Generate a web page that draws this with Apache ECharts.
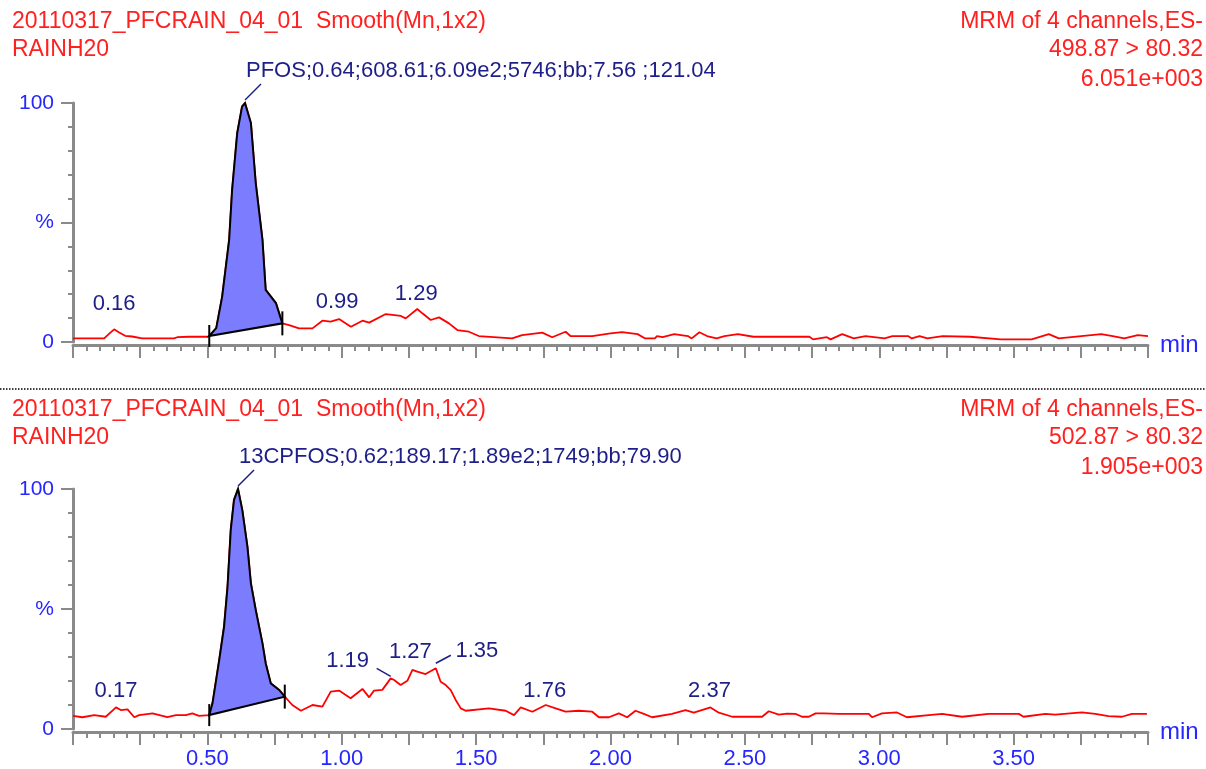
<!DOCTYPE html>
<html>
<head>
<meta charset="utf-8">
<script src="https://cdn.jsdelivr.net/npm/echarts@6/dist/echarts.min.js"></script>
<style>
  html, body { margin: 0; padding: 0; background: #fff; }
  #chart { width: 1206px; height: 769px; }
</style>
</head>
<body>
<div id="chart"></div>
<script>
// 上图 PFOS 通道 (498.87 > 80.32)
const topTimes = [0.000, 0.116, 0.135, 0.153, 0.172, 0.194, 0.220, 0.257, 0.376, 0.388, 0.395, 0.432, 0.499,
  0.507, 0.533, 0.555, 0.581, 0.592, 0.611, 0.629, 0.640, 0.662, 0.680, 0.705, 0.717, 0.755, 0.779,
  0.804, 0.841, 0.891, 0.928, 0.959, 0.990, 1.034, 1.077, 1.102, 1.164, 1.220, 1.238, 1.281, 1.300,
  1.331, 1.362, 1.399, 1.430, 1.473, 1.510, 1.634, 1.671, 1.746, 1.783, 1.833, 1.851, 1.932, 2.000,
  2.043, 2.101, 2.129, 2.165, 2.173, 2.194, 2.237, 2.288, 2.302, 2.331, 2.359, 2.395, 2.424, 2.474,
  2.532, 2.740, 2.754, 2.805, 2.819, 2.862, 2.905, 2.949, 3.020, 3.049, 3.107, 3.121, 3.150, 3.179,
  3.236, 3.337, 3.452, 3.567, 3.631, 3.668, 3.826, 3.869, 3.912, 3.962, 4.000];
const topValues = [1.5, 1.5, 3.5, 5.3, 4.0, 2.6, 2.3, 1.5, 1.5, 2.0, 1.5, 2.2, 2.2,
  2.5, 5.8, 19, 42.7, 63.6, 87.4, 98.5, 100, 91.6, 66.5, 42.7, 21.8, 16.3, 7.8,
  7.1, 5.7, 5.7, 8.9, 8.5, 9.6, 6.4, 8.9, 8.1, 11.7, 10.9, 9.9, 13.8, 12.0,
  9.2, 10.3, 7.8, 5.0, 4.3, 2.5, 1.5, 2.9, 3.9, 2.0, 4.3, 2.5, 2.5, 3.6,
  4.1, 3.3, 1.5, 1.5, 2.5, 2.0, 3.3, 2.5, 1.5, 4.1, 2.5, 1.5, 2.5, 3.3,
  2.2, 2.2, 1.1, 2.0, 1.1, 3.3, 1.5, 2.5, 1.5, 2.5, 2.5, 1.5, 2.5, 1.5,
  2.5, 2.2, 1.1, 1.1, 3.3, 1.5, 3.3, 2.5, 1.5, 2.9, 2.5];
const topPeakRange = [0.507, 0.779];
const topPeakLabel = "PFOS;0.64;608.61;6.09e2;5746;bb;7.56 ;121.04";
const topPeakApex = [0.640, 100];
const topMarks = ["0.16", "0.99", "1.29"];
const topMarkTimes = [0.153, 0.990, 1.281];
const topMarkValues = [5.3, 9.6, 13.8];

// 下图 13CPFOS 通道 (502.87 > 80.32)
const bottomTimes = [0.000, 0.035, 0.079, 0.122, 0.160, 0.178, 0.203, 0.228, 0.246, 0.296, 0.351, 0.383, 0.420,
  0.444, 0.469, 0.507, 0.519, 0.544, 0.562, 0.575, 0.587, 0.599, 0.614, 0.630, 0.649, 0.662, 0.680,
  0.705, 0.717, 0.736, 0.767, 0.788, 0.816, 0.848, 0.891, 0.928, 0.959, 0.990, 1.033, 1.077, 1.102,
  1.120, 1.151, 1.182, 1.195, 1.219, 1.244, 1.263, 1.281, 1.312, 1.350, 1.368, 1.387, 1.405, 1.424,
  1.443, 1.461, 1.548, 1.610, 1.641, 1.666, 1.709, 1.759, 1.796, 1.833, 1.882, 1.932, 1.957, 1.994,
  2.031, 2.062, 2.093, 2.124, 2.155, 2.229, 2.279, 2.310, 2.372, 2.403, 2.453, 2.564, 2.589, 2.626,
  2.657, 2.688, 2.713, 2.738, 2.763, 2.794, 2.849, 2.961, 2.973, 3.010, 3.066, 3.103, 3.184, 3.234,
  3.308, 3.407, 3.519, 3.537, 3.618, 3.655, 3.754, 3.804, 3.853, 3.903, 3.940, 3.996];
const bottomValues = [5.5, 4.9, 5.8, 5.1, 9.0, 7.9, 8.2, 4.9, 5.8, 6.5, 4.9, 5.8, 5.8,
  6.5, 5.5, 5.8, 10.7, 28.7, 42.6, 59.3, 83, 95.4, 100, 91.2, 76, 60.7, 49.6,
  35.7, 27.4, 19, 16.3, 13.5, 10, 7.6, 10, 9.3, 15.6, 16, 12.8, 16.7, 13.2,
  16, 16.3, 21.1, 20.4, 18.3, 20.1, 24.6, 23.9, 22.9, 25.3, 19.7, 18.3, 16.3, 12.1,
  8.6, 7.6, 8.6, 7.6, 5.8, 9.0, 7.2, 10, 8.6, 7.2, 7.6, 7.2, 4.9, 4.9,
  6.5, 4.9, 7.6, 6.3, 4.9, 6.3, 7.9, 6.8, 9.0, 6.8, 5.1, 5.1, 7.4, 6.0,
  6.4, 6.3, 5.1, 5.1, 6.5, 6.5, 6.3, 6.3, 4.9, 6.5, 6.9, 4.9, 5.8, 6.3,
  5.1, 6.3, 6.3, 5.1, 6.3, 6.0, 6.9, 6.3, 5.4, 5.1, 6.3, 6.3];
const bottomPeakRange = [0.507, 0.788];
const bottomPeakLabel = "13CPFOS;0.62;189.17;1.89e2;1749;bb;79.90";
const bottomPeakApex = [0.614, 100];
const bottomMarks = ["0.17", "1.19", "1.27", "1.35", "1.76", "2.37"];
const bottomMarkTimes = [0.160, 1.182, 1.263, 1.350, 1.759, 2.372];
const bottomMarkValues = [9.0, 21.1, 24.6, 25.3, 10, 9.0];

// 坐标轴刻度文字
const xTickLabels = ["0.50", "1.00", "1.50", "2.00", "2.50", "3.00", "3.50"];
const yTickValues = [0, 50, 100];
const yTickLabels = ["0", "%", "100"];

// 表头文字
const topHeaderLeft = ["20110317_PFCRAIN_04_01  Smooth(Mn,1x2)", "RAINH20"];
const topHeaderRight = ["MRM of 4 channels,ES-", "498.87 > 80.32", "6.051e+003"];
const bottomHeaderLeft = ["20110317_PFCRAIN_04_01  Smooth(Mn,1x2)", "RAINH20"];
const bottomHeaderRight = ["MRM of 4 channels,ES-", "502.87 > 80.32", "1.905e+003"];

// 标注位置偏移 (像素, 相对峰顶)
const topMarkOffsets = [[0, -25, 0], [-2, -17, 0], [-1, -15, 0]];
const bottomMarkOffsets = [[0, -16, 0], [-43, -17, 1], [-2, -18, 0], [41, -17, 2], [-1, -14, 0], [-1, -16, 0]];

const FONT = "'Liberation Sans', Arial, sans-serif";
const RED = "#ff2020";
const BLUE = "#2626ff";
const NAVY = "#1e1e88";
const AXIS_GREY = "#8a8a8a";

const pairs = (xs, ys) => xs.map((x, i) => [x, ys[i]]);

const chart = echarts.init(document.getElementById("chart"));

const makeXAxis = (gridIndex, showLabels) => ({
  type: "value",
  gridIndex: gridIndex,
  min: 0,
  max: 4,
  interval: 0.25,
  offset: 3,
  name: "min",
  nameLocation: "end",
  nameGap: 12,
  nameTextStyle: { color: BLUE, fontSize: 24, fontFamily: FONT, verticalAlign: "middle", padding: [2, 0, 0, 0] },
  axisLine: { show: true, onZero: false, lineStyle: { color: AXIS_GREY, width: 3 } },
  axisTick: { show: true, length: 13, lineStyle: { color: AXIS_GREY, width: 2 } },
  minorTick: { show: true, splitNumber: 5, length: 6, lineStyle: { color: AXIS_GREY, width: 2 } },
  splitLine: { show: false },
  minorSplitLine: { show: false },
  axisLabel: {
    show: showLabels,
    color: BLUE,
    fontSize: 22,
    fontFamily: FONT,
    margin: 16,
    formatter: (v) => (xTickLabels.includes(v.toFixed(2)) ? v.toFixed(2) : ""),
  },
});

const makeYAxis = (gridIndex) => ({
  type: "value",
  gridIndex: gridIndex,
  min: 0,
  max: 100,
  interval: 50,
  offset: 1,
  axisLine: { show: true, lineStyle: { color: AXIS_GREY, width: 3 } },
  axisTick: { show: true, length: 12, lineStyle: { color: AXIS_GREY, width: 2 } },
  minorTick: { show: true, splitNumber: 5, length: 5, lineStyle: { color: AXIS_GREY, width: 2 } },
  splitLine: { show: false },
  minorSplitLine: { show: false },
  axisLabel: {
    color: BLUE,
    fontSize: 21,
    fontFamily: FONT,
    margin: 18,
    formatter: (v) => {
      const i = yTickValues.indexOf(v);
      return i >= 0 ? yTickLabels[i] : "";
    },
  },
});

// 积分峰: 蓝色填充 + 黑色轮廓 + 起止竖线
const makePeakSeries = (idx, times, values, range) => ({
  type: "custom",
  xAxisIndex: idx,
  yAxisIndex: idx,
  z: 5,
  silent: true,
  data: [[range[0], 0]],
  renderItem: (params, api) => {
    const pts = [];
    times.forEach((t, i) => {
      if (t >= range[0] && t <= range[1]) pts.push(api.coord([t, values[i]]));
    });
    const a = pts[0];
    const b = pts[pts.length - 1];
    return {
      type: "group",
      children: [
        {
          type: "polygon",
          shape: { points: pts },
          style: { fill: "#7c7cff", stroke: "#000", lineWidth: 2 },
        },
        { type: "line", shape: { x1: a[0], y1: a[1] - 11, x2: a[0], y2: a[1] + 11 }, style: { stroke: "#000", lineWidth: 2 } },
        { type: "line", shape: { x1: b[0], y1: b[1] - 12, x2: b[0], y2: b[1] + 12 }, style: { stroke: "#000", lineWidth: 2 } },
      ],
    };
  },
});

// 峰标注文字
const makeLabelSeries = (idx, marks, times, values, offsets, peakLabel, apex) => ({
  type: "custom",
  xAxisIndex: idx,
  yAxisIndex: idx,
  z: 6,
  silent: true,
  data: times.map((t, i) => [t, values[i], i]).concat([[apex[0], apex[1], -1]]),
  renderItem: (params, api) => {
    const p = api.coord([api.value(0), api.value(1)]);
    const i = api.value(2);
    const textStyle = { fill: NAVY, fontSize: 22, fontFamily: FONT, verticalAlign: "middle" };
    if (i < 0) {
      return {
        type: "group",
        children: [
          { type: "line", shape: { x1: p[0], y1: p[1] - 3, x2: p[0] + 16, y2: p[1] - 19 }, style: { stroke: NAVY, lineWidth: 1.5 } },
          { type: "text", x: p[0] + 1, y: p[1] - 32, style: Object.assign({ text: peakLabel, align: "left" }, textStyle) },
        ],
      };
    }
    const off = offsets[i];
    const children = [
      { type: "text", x: p[0] + off[0], y: p[1] + off[1], style: Object.assign({ text: marks[i], align: "center" }, textStyle) },
    ];
    if (off[2] === 1) {
      children.push({ type: "line", shape: { x1: p[0] - 14, y1: p[1] - 10, x2: p[0], y2: p[1] - 2 }, style: { stroke: NAVY, lineWidth: 1.5 } });
    } else if (off[2] === 2) {
      children.push({ type: "line", shape: { x1: p[0], y1: p[1] - 5, x2: p[0] + 15, y2: p[1] - 13 }, style: { stroke: NAVY, lineWidth: 1.5 } });
    }
    return { type: "group", children: children };
  },
});

const headerText = (lines, x, ys, align) =>
  lines.map((s, i) => ({
    type: "text",
    x: x,
    y: ys[i],
    style: { text: s, fill: RED, fontSize: 23, fontFamily: FONT, align: align, verticalAlign: "middle" },
  }));

const option = {
  animation: false,
  backgroundColor: "#fff",
  grid: [
    { left: 73, right: 58, top: 103, height: 239, outerBoundsMode: "none" },
    { left: 73, right: 58, top: 489, height: 240, outerBoundsMode: "none" },
  ],
  xAxis: [makeXAxis(0, false), makeXAxis(1, true)],
  yAxis: [makeYAxis(0), makeYAxis(1)],
  series: [
    {
      type: "line",
      xAxisIndex: 0,
      yAxisIndex: 0,
      z: 3,
      showSymbol: false,
      silent: true,
      data: pairs(topTimes, topValues),
      lineStyle: { color: "#ff0000", width: 1.8 },
    },
    {
      type: "line",
      xAxisIndex: 1,
      yAxisIndex: 1,
      z: 3,
      showSymbol: false,
      silent: true,
      data: pairs(bottomTimes, bottomValues),
      lineStyle: { color: "#ff0000", width: 1.8 },
    },
    makePeakSeries(0, topTimes, topValues, topPeakRange),
    makePeakSeries(1, bottomTimes, bottomValues, bottomPeakRange),
    makeLabelSeries(0, topMarks, topMarkTimes, topMarkValues, topMarkOffsets, topPeakLabel, topPeakApex),
    makeLabelSeries(1, bottomMarks, bottomMarkTimes, bottomMarkValues, bottomMarkOffsets, bottomPeakLabel, bottomPeakApex),
  ],
  graphic: [
    ...headerText(topHeaderLeft, 12, [22, 50], "left"),
    ...headerText(topHeaderRight, 1203, [22, 50, 80], "right"),
    ...headerText(bottomHeaderLeft, 12, [410, 438], "left"),
    ...headerText(bottomHeaderRight, 1203, [410, 438, 468], "right"),
    {
      type: "line",
      shape: { x1: 0, y1: 389, x2: 1206, y2: 389 },
      style: { stroke: "#000", lineWidth: 1.5, lineDash: [1.5, 1.5] },
    },
  ],
};

chart.setOption(option);
window.addEventListener("resize", () => chart.resize());
</script>
</body>
</html>
